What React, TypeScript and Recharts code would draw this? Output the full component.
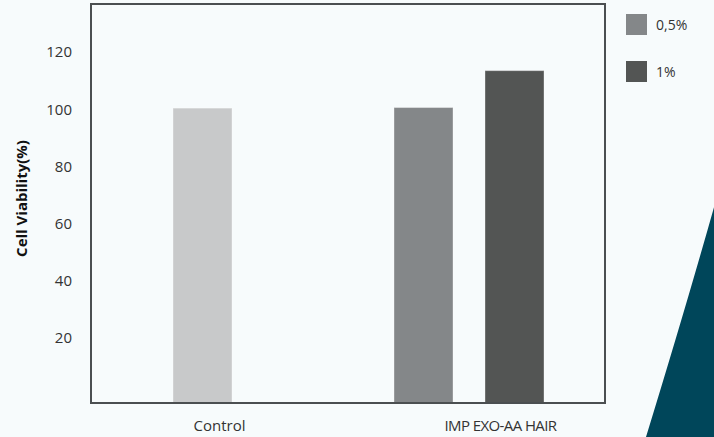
import { BarChart, Bar, XAxis, YAxis, Legend, Cell, ReferenceLine } from 'recharts';

// categories and the two concentrations; the Control bar lives in the first series slot
const categories = ['Control', 'IMP EXO-AA HAIR'];
const seriesNames = ['0,5%', '1%'];
const lowDose = [100.4, 100.6];
const highDose: (number | null)[] = [null, 113.5];
const yTicks = [20, 40, 60, 80, 100, 120];
const yDomain = [-2.7, 136.8];

const data = categories.map((name, i) => ({ name, low: lowDose[i], high: highDose[i] }));

const CONTROL = '#c8c9ca';
const LOW = '#848789';
const HIGH = '#535554';
const FRAME = '#4b4f51';
const BG = '#f7fbfc';
const FONT = '"Open Sans", "Noto Sans", sans-serif';

// the category labels sit a little off the bar groups in the original
const labelShift = [-28, 32];

function FloorBar(props: any) {
  const { x, y, width, height, fill, background } = props;
  if (!(height > 0)) return null;
  const bottom = background ? background.y + background.height : y + height;
  return (
    <rect x={x} y={y} width={width} height={bottom - y} fill={fill}
      stroke="rgba(255,255,255,0.35)" strokeWidth={1} />
  );
}

function CategoryTick(props: any) {
  const { x, y, payload } = props;
  const i = props.index ?? payload.index ?? 0;
  return (
    <text x={x + labelShift[i]} y={y + 26} textAnchor="middle" fill="#333"
      fontSize={15} fontFamily={FONT} letterSpacing={i === 1 ? -0.6 : 0}>
      {payload.value}
    </text>
  );
}

function AxisTitle(props: any) {
  const vb = props.viewBox || { x: 0, y: 4, width: 91, height: 399 };
  const cx = vb.x + 21;
  const cy = vb.y + vb.height / 2 - 5;
  return (
    <text x={cx} y={cy} transform={`rotate(-90, ${cx}, ${cy})`} textAnchor="middle"
      dominantBaseline="central" fontSize={15} fontWeight={700} fill="#111" fontFamily={FONT}>
      Cell Viability(%)
    </text>
  );
}

function LegendBox({ payload }: any) {
  return (
    <div style={{ fontFamily: FONT }}>
      {(payload || []).map((item: any) => (
        <div key={item.value} style={{ display: 'flex', alignItems: 'center', height: 21, marginBottom: 26 }}>
          <span style={{ width: 21, height: 21, background: item.color, marginRight: 9, display: 'inline-block' }} />
          <span style={{ fontSize: 14, color: '#333' }}>{item.value}</span>
        </div>
      ))}
    </div>
  );
}

export default function App() {
  const frameLine = { stroke: FRAME, strokeWidth: 2, strokeLinecap: 'square' as const };
  return (
    <div style={{ position: 'absolute', left: 0, top: 0, width: 714, height: 437, background: BG, overflow: 'hidden' }}>
      <svg width={714} height={437} style={{ position: 'absolute', left: 0, top: 0 }}>
        <path d="M 716 200 Q 688 300 646 437 L 716 437 Z" fill="#00465a" />
      </svg>
      <div style={{ position: 'absolute', left: 0, top: 0 }}>
        <BarChart width={714} height={437} data={data} barSize={59} barGap={32}
          margin={{ top: 4, right: 108, bottom: 0, left: 0 }}>
          <XAxis dataKey="name" height={34} padding={{ left: 46, right: 26 }}
            tickLine={false} tickSize={0} axisLine={frameLine} tick={<CategoryTick />} />
          <YAxis width={91} type="number" domain={yDomain} ticks={yTicks}
            tickLine={false} tickSize={0} tickMargin={19} axisLine={frameLine}
            tick={{ fill: '#333', fontSize: 15, fontFamily: FONT }}
            label={<AxisTitle />} />
          <YAxis yAxisId="right" orientation="right" width={1} type="number" domain={[0, 1]}
            tick={false} tickLine={false} axisLine={frameLine} />
          <ReferenceLine y={yDomain[1]} stroke={FRAME} strokeWidth={2} strokeLinecap="square" ifOverflow="visible" />
          <Legend layout="horizontal" verticalAlign="middle" align="center"
            wrapperStyle={{ left: 626, top: 14, width: 80, height: 90 }} content={<LegendBox />} />
          <Bar dataKey="low" name={seriesNames[0]} fill={LOW} shape={<FloorBar />} isAnimationActive={false}>
            {data.map((d, i) => (
              <Cell key={d.name} fill={i === 0 ? CONTROL : LOW} />
            ))}
          </Bar>
          <Bar dataKey="high" name={seriesNames[1]} fill={HIGH} shape={<FloorBar />} isAnimationActive={false} />
        </BarChart>
      </div>
    </div>
  );
}
